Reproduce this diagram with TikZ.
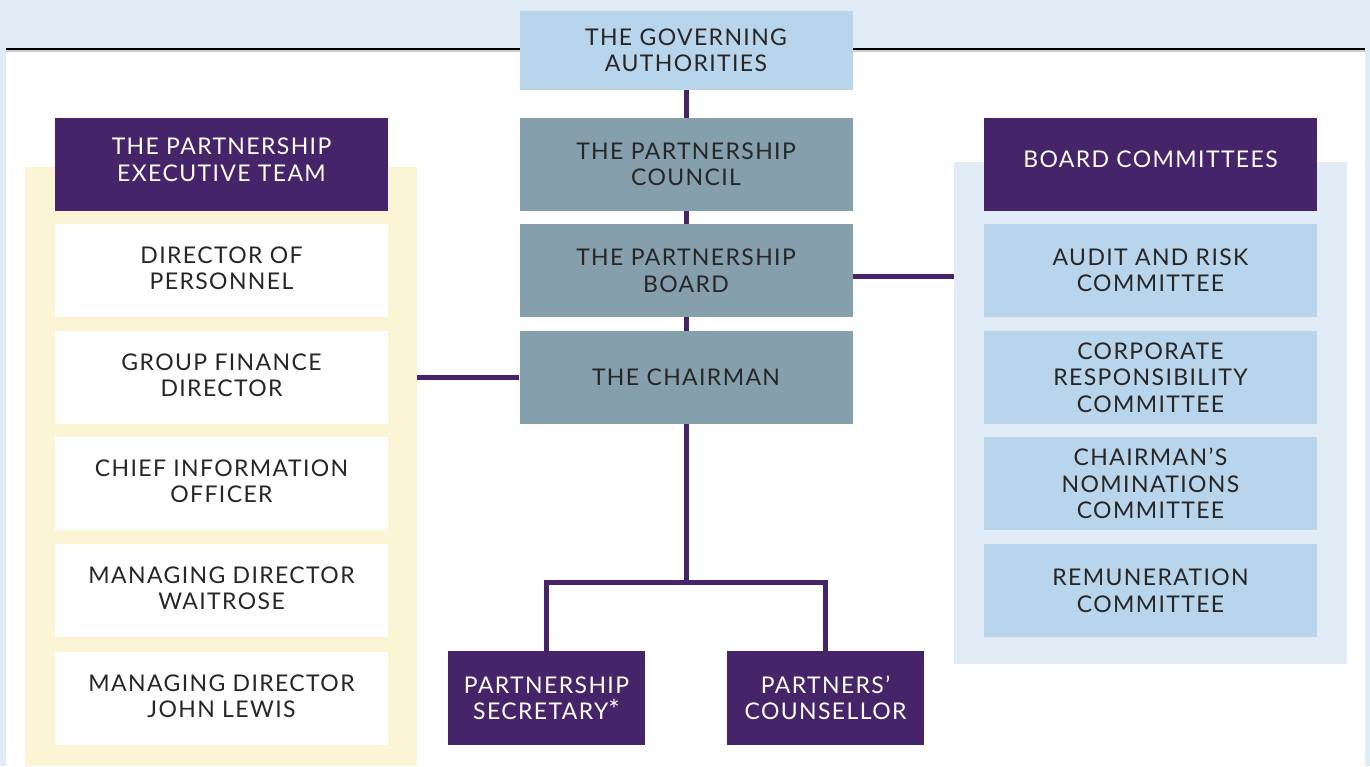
\documentclass[tikz,border=0pt]{standalone}
\usepackage{fontspec}
\newfontfamily\chartfont{Lato}[LetterSpace=6]
\definecolor{pagebg}{HTML}{E1ECF6}
\definecolor{purp}{HTML}{46246A}
\definecolor{slate}{HTML}{869FAC}
\definecolor{skyblue}{HTML}{B9D5EC}
\definecolor{cream}{HTML}{FBF4D5}
\tikzset{
  box/.style={minimum width=333pt, minimum height=93pt, inner sep=0pt, align=center,
    font=\chartfont\fontsize{23}{26.5}\selectfont},
  headbox/.style={box, fill=purp, text=white},
  colhead/.style={headbox, text depth=10pt},
  councilbox/.style={box, fill=slate, text=black!85},
  execbox/.style={box, fill=white, text=black!85, text depth=5pt},
  combox/.style={box, fill=skyblue, text=black!85},
  smallbox/.style={headbox, minimum width=197pt, minimum height=94pt},
  link/.style={draw=purp, line width=5pt},
}
\begin{document}
\begin{tikzpicture}[x=1pt, y=-1pt]
\useasboundingbox (0,0) rectangle (1370,766);
\fill[pagebg] (0,0) rectangle (1370,766);
\fill[white] (6,49) rectangle (1365,766);
\draw[black!20, line width=1.5pt] (6,51) -- (1365,51);
\draw[black, line width=2pt] (6,49) -- (1365,49);

% panels behind the two side columns
\node[fill=cream, minimum width=392pt, minimum height=599pt, inner sep=0pt] (expanel) at (221,466.5) {};
\node[fill=pagebg, minimum width=393pt, minimum height=502pt, inner sep=0pt] (bcpanel) at (1150.5,413) {};

% middle column
\node[combox, minimum height=79pt] (gov) at (686,50.5) {THE GOVERNING\\AUTHORITIES};
\node[councilbox] (council) at (686,164.5) {THE PARTNERSHIP\\COUNCIL};
\node[councilbox] (board) at (686,270.5) {THE PARTNERSHIP\\BOARD};
\node[councilbox] (chair) at (686,377.5) {THE CHAIRMAN};
\node[smallbox] (sec) at (546.5,698) {PARTNERSHIP\\SECRETARY{\fontsize{27}{26.5}\selectfont*}};
\node[smallbox] (couns) at (825.5,698) {PARTNERS’\\COUNSELLOR};
\coordinate (fork) at (686,582);
\coordinate (boardout) at ([yshift=-5.5pt]board.east);

% left column
\node[colhead] (exec) at (221.5,164.5) {THE PARTNERSHIP\\EXECUTIVE TEAM};
\foreach \i/\y/\txt in {1/270.5/{DIRECTOR OF\\PERSONNEL},
                        2/377.5/{GROUP FINANCE\\DIRECTOR},
                        3/483.5/{CHIEF INFORMATION\\OFFICER},
                        4/590.5/{MANAGING DIRECTOR\\WAITROSE},
                        5/698.5/{MANAGING DIRECTOR\\JOHN LEWIS}}
{
    \node[execbox] (ex\i) at (221.5,\y) {\txt};
}

% right column
\node[colhead] (bc) at (1150.5,164.5) {BOARD COMMITTEES};
\foreach \i/\y/\txt in {1/270.5/{AUDIT AND RISK\\COMMITTEE},
                        2/377.5/{CORPORATE\\RESPONSIBILITY\\COMMITTEE},
                        3/483.5/{CHAIRMAN’S\\NOMINATIONS\\COMMITTEE},
                        4/590.5/{REMUNERATION\\COMMITTEE}}
{
    \node[combox] (bc\i) at (1150.5,\y) {\txt};
}

% connectors
\draw[link] (gov.south) -- (council.north);
\draw[link] (council.south) -- (board.north);
\draw[link] (board.south) -- (chair.north);
\draw[link] (chair.south) -- (fork);
\draw[link] (sec.north) |- (fork) -| (couns.north);
\draw[link] (chair.west) -- (chair.west -| expanel.east);
\draw[link] (boardout) -- (boardout -| bcpanel.west);
\end{tikzpicture}
\end{document}
